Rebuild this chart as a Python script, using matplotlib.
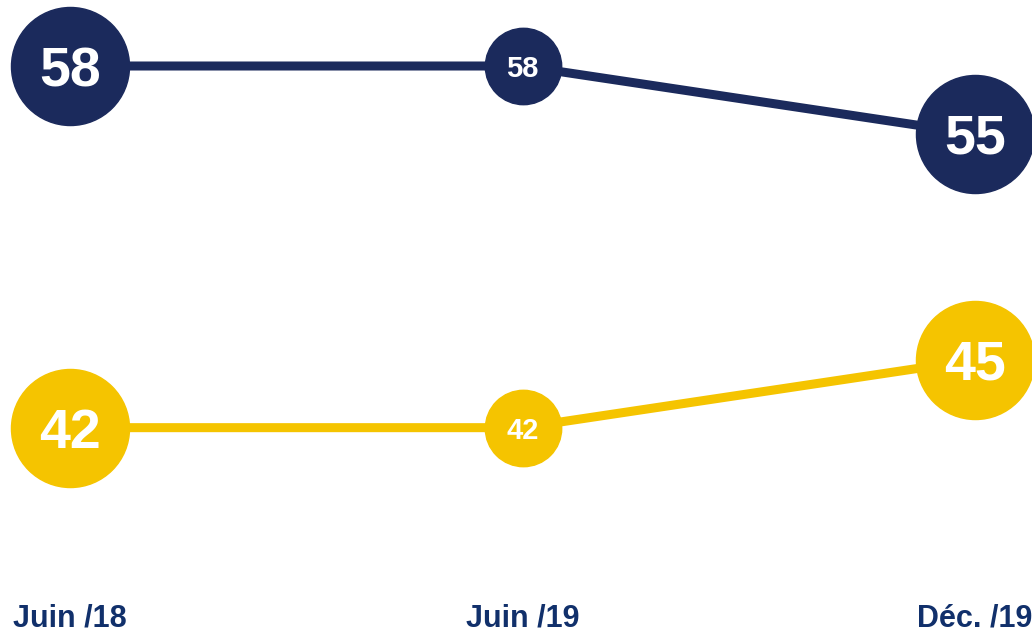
import matplotlib.pyplot as plt

periods = ["Juin /18", "Juin /19", "Déc. /19"]
navy_vals = [58, 58, 55]
yellow_vals = [42, 42, 45]

navy = "#1b2a5c"
yellow = "#f5c400"
label_col = "#11306b"

plt.rcParams['font.family'] = ['Liberation Sans', 'DejaVu Sans']

fig = plt.figure(figsize=(10.32, 6.39), dpi=100)
ax = fig.add_axes([0, 0, 1, 1])
x = list(range(len(periods)))

big, small = 85, 55
sizes = [big, small, big]
fonts = [40, 21, 40]

for vals, col in [(navy_vals, navy), (yellow_vals, yellow)]:
    ax.plot(x, vals, color=col, lw=6.5, zorder=1, solid_capstyle='butt')
    for xi, v, ms, fs in zip(x, vals, sizes, fonts):
        ax.plot(xi, v, 'o', ms=ms, color=col, mec=col, zorder=2)
        ax.text(xi, v, str(v), color='white', fontsize=fs, fontweight='bold',
                ha='center', va='center_baseline', zorder=3)

# period labels along the bottom edge
for xi, lab in zip(x, periods):
    ax.annotate(lab, (xi, 0.008), xycoords=('data', 'axes fraction'),
                ha='center', va='bottom', fontsize=22, fontweight='bold',
                color=label_col)

ax.set_xlim(-0.155, 2.126)
ax.set_ylim(32.65, 60.92)
ax.axis('off')

fig.savefig("out.png", dpi=100)
